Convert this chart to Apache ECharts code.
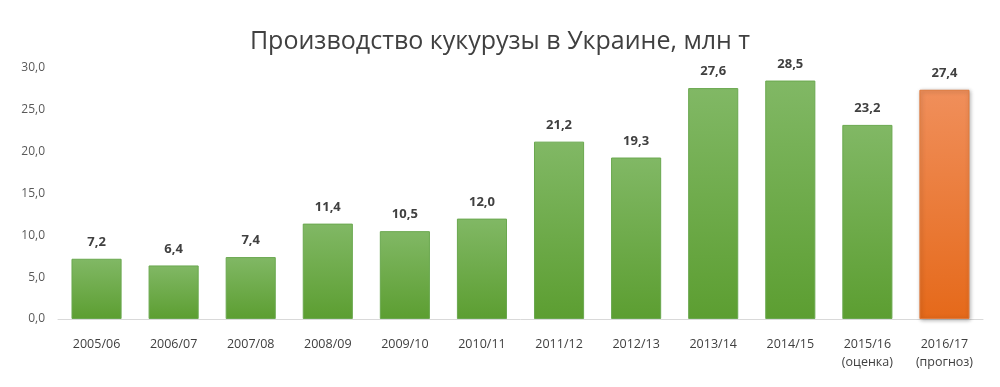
<!DOCTYPE html>
<html><head><meta charset="utf-8">
<script src="https://cdn.jsdelivr.net/npm/echarts@6/dist/echarts.min.js"></script>
<style>html,body{margin:0;padding:0;background:#fff}#c{width:1000px;height:387px}</style>
</head><body><div id="c"></div>
<script>
const categories = ['2005/06','2006/07','2007/08','2008/09','2009/10','2010/11','2011/12','2012/13','2013/14','2014/15','2015/16\n(оценка)','2016/17\n(прогноз)'];
const values = [7.2,6.4,7.4,11.4,10.5,12.0,21.2,19.3,27.6,28.5,23.2,27.4];
const forecastIndex = 11;
const titleText = 'Производство кукурузы в Украине, млн т';

const green = new echarts.graphic.LinearGradient(0,0,0,1,[{offset:0,color:'#81b865'},{offset:1,color:'#5c9e31'}]);
const orange = new echarts.graphic.LinearGradient(0,0,0,1,[{offset:0,color:'#f08f5b'},{offset:1,color:'#e5691a'}]);
const fmt = v => v.toFixed(1).replace('.', ',');

const chart = echarts.init(document.getElementById('c'));
chart.setOption({
  animation:false,
  title:{text:titleText,left:'center',top:24,textStyle:{fontFamily:'Open Sans',fontSize:25,fontWeight:'normal',color:'#404040'}},
  grid:{left:58,right:17,top:68,bottom:68},
  xAxis:{type:'category',data:categories,axisTick:{show:false},
    axisLine:{lineStyle:{color:'#d9d9d9',width:1}},
    axisLabel:{color:'#404040',fontFamily:'Open Sans',fontSize:12.5,margin:16,lineHeight:18,interval:0}},
  yAxis:{type:'value',min:0,max:30,interval:5,splitLine:{show:false},
    axisLabel:{color:'#595959',fontFamily:'Open Sans',fontSize:12,margin:13,formatter:v=>fmt(v)}},
  series:[{type:'bar',barWidth:'65%',
    data:values.map((v,i)=>({value:v,itemStyle: i===forecastIndex
      ? {color:orange,borderColor:'#e07a3c',borderWidth:1,shadowColor:'rgba(0,0,0,0.3)',shadowBlur:4,shadowOffsetX:1,shadowOffsetY:1}
      : {color:green,borderColor:'#6aa84f',borderWidth:1}})),
    label:{show:true,position:'top',distance:10,formatter:p=>fmt(p.value),fontFamily:'Open Sans',fontWeight:'bold',fontSize:13,color:'#404040'}
  }]
});
</script></body></html>
